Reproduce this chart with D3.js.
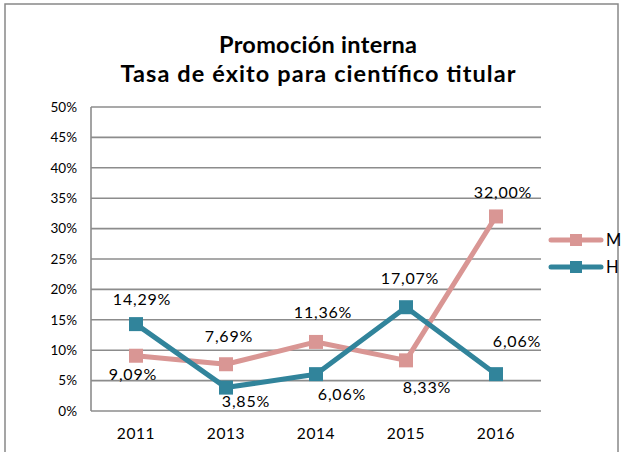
<!DOCTYPE html>
<html>
<head>
<meta charset="utf-8">
<script src="https://cdn.jsdelivr.net/npm/d3@7"></script>
<style>
  html, body { margin: 0; padding: 0; background: #fff; }
  svg { display: block; font-family: "Lato", "Open Sans", sans-serif; }
</style>
</head>
<body>
<svg id="chart" width="622" height="452"></svg>
<script>
// Chart data
const years = ["2011", "2013", "2014", "2015", "2016"];
const seriesNames = ["M", "H"];
const valuesM = [9.09, 7.69, 11.36, 8.33, 32.00];
const valuesH = [14.29, 3.85, 6.06, 17.07, 6.06];
const yTicks = [0, 5, 10, 15, 20, 25, 30, 35, 40, 45, 50];
const titleLines = ["Promoción interna", "Tasa de éxito para científico titular"];

// Label placement (dx, dy from the marker centre)
const labelOffsetM = [[-3, 24], [3, -22], [7, -24], [21, 33], [7, -18]];
const labelOffsetH = [[6, -19], [20, 19], [26, 26], [4, -23], [21, -27]];

const colors = { M: "#D99694", H: "#31849B" };

const svg = d3.select("#chart");
const plot = { left: 91, right: 541, top: 107, bottom: 411 };

// Outer frame
svg.append("rect")
  .attr("x", 5).attr("y", 4)
  .attr("width", 613).attr("height", 460)
  .attr("fill", "#fff")
  .attr("stroke", "#888").attr("stroke-width", 1.5);

// Title
const titleWidths = [198, 395];
const title = svg.append("text")
  .attr("text-anchor", "middle")
  .attr("font-weight", "bold")
  .attr("font-size", 23.5)
  .attr("fill", "#000");
titleLines.forEach((t, i) => {
  title.append("tspan")
    .attr("x", 318).attr("y", 53 + i * 29)
    .attr("textLength", titleWidths[i])
    .attr("lengthAdjust", "spacing")
    .text(t);
});

// Scales
const x = d3.scaleBand().domain(years).range([plot.left, plot.right]);
const y = d3.scaleLinear().domain([0, 50]).range([plot.bottom, plot.top]);

// Horizontal gridlines
svg.append("g")
  .selectAll("line")
  .data(yTicks)
  .join("line")
  .attr("x1", plot.left).attr("x2", plot.right)
  .attr("y1", d => y(d)).attr("y2", d => y(d))
  .attr("stroke", "#8c8c8c").attr("stroke-width", 1.6);

// Y axis line
svg.append("line")
  .attr("x1", plot.left).attr("x2", plot.left)
  .attr("y1", plot.top).attr("y2", plot.bottom)
  .attr("stroke", "#8c8c8c").attr("stroke-width", 1.6);

// Y axis labels
const yAxis = d3.axisLeft(y).tickValues(yTicks).tickSize(0).tickPadding(14)
  .tickFormat(d => d + "%");
const gy = svg.append("g").attr("transform", `translate(${plot.left},0)`).call(yAxis);
gy.select(".domain").remove();
gy.selectAll("text")
  .attr("font-size", 13.5).attr("fill", "#000")
  .attr("font-family", "Lato, 'Open Sans', sans-serif");

// X axis labels
const xAxis = d3.axisBottom(x).tickSize(0).tickPadding(17);
const gx = svg.append("g").attr("transform", `translate(0,${plot.bottom})`).call(xAxis);
gx.select(".domain").remove();
gx.selectAll("text")
  .attr("font-size", 15.5).attr("fill", "#000")
  .attr("letter-spacing", 0.6)
  .attr("font-family", "Lato, 'Open Sans', sans-serif");

const cx = d => x(d) + x.bandwidth() / 2;
const fmt = v => v.toFixed(2).replace(".", ",") + "%";

const series = [
  { name: "M", values: valuesM, offsets: labelOffsetM },
  { name: "H", values: valuesH, offsets: labelOffsetH }
];

const line = d3.line()
  .x(d => cx(d.year))
  .y(d => y(d.value));

series.forEach(s => {
  const pts = years.map((yr, i) => ({ year: yr, value: s.values[i] }));
  const g = svg.append("g");
  g.append("path")
    .datum(pts)
    .attr("d", line)
    .attr("fill", "none")
    .attr("stroke", colors[s.name])
    .attr("stroke-width", 5)
    .attr("stroke-linejoin", "round");
  g.selectAll("rect")
    .data(pts)
    .join("rect")
    .attr("x", d => cx(d.year) - 7)
    .attr("y", d => y(d.value) - 7)
    .attr("width", 14).attr("height", 14)
    .attr("fill", colors[s.name]);
});

// Value labels drawn on top of all lines
series.forEach(s => {
  const pts = years.map((yr, i) => ({ year: yr, value: s.values[i], off: s.offsets[i] }));
  svg.append("g")
    .selectAll("text")
    .data(pts)
    .join("text")
    .attr("x", d => cx(d.year) + d.off[0])
    .attr("y", d => y(d.value) + d.off[1])
    .attr("text-anchor", "middle")
    .attr("font-size", 16)
    .attr("letter-spacing", 0.8)
    .attr("fill", "#000")
    .text(d => fmt(d.value));
});

// Legend
series.forEach((s, i) => {
  const ly = 240 + i * 27;
  const g = svg.append("g");
  g.append("line")
    .attr("x1", 551).attr("x2", 601)
    .attr("y1", ly).attr("y2", ly)
    .attr("stroke", colors[s.name]).attr("stroke-width", 5)
    .attr("stroke-linecap", "round");
  g.append("rect")
    .attr("x", 576 - 6).attr("y", ly - 6)
    .attr("width", 12).attr("height", 12)
    .attr("fill", colors[s.name]);
  g.append("text")
    .attr("x", 606).attr("y", ly + 6)
    .attr("font-size", 16.5).attr("fill", "#000")
    .text(s.name);
});
</script>
</body>
</html>
